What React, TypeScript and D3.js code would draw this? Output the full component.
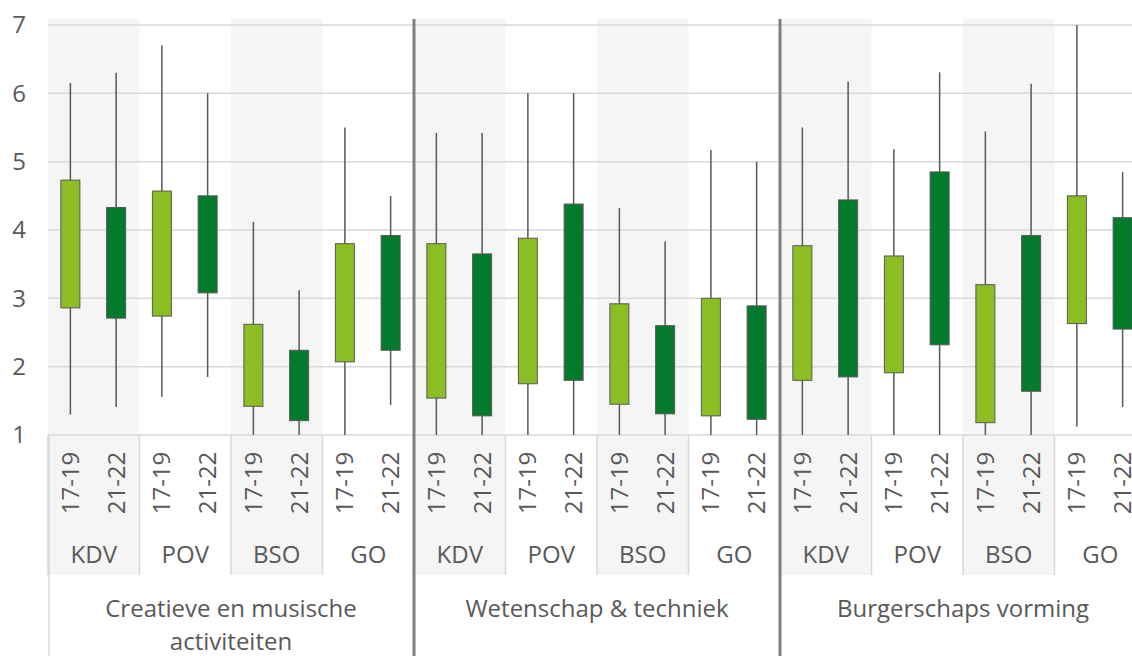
import React from "react";
import * as d3 from "d3";

// chart values
const groupNames = ["Creatieve en musische activiteiten", "Wetenschap & techniek", "Burgerschaps vorming"];
const groupLabelLines = [["Creatieve en musische", "activiteiten"], ["Wetenschap & techniek"], ["Burgerschaps vorming"]];
const settings = ["KDV", "POV", "BSO", "GO"];
const periods = ["17-19", "21-22"];
const yTicks = [1, 2, 3, 4, 5, 6, 7];

// order per group: KDV 17-19, KDV 21-22, POV 17-19, POV 21-22, BSO ..., GO ...
const highs = [
  [6.15, 6.3, 6.7, 6.0, 4.12, 3.12, 5.5, 4.5],
  [5.42, 5.42, 6.0, 6.0, 4.32, 3.83, 5.17, 5.0],
  [5.5, 6.17, 5.18, 6.31, 5.44, 6.14, 7.0, 4.85],
];
const tops = [
  [4.73, 4.33, 4.57, 4.5, 2.62, 2.24, 3.8, 3.92],
  [3.8, 3.65, 3.88, 4.38, 2.92, 2.6, 3.0, 2.89],
  [3.77, 4.44, 3.62, 4.85, 3.2, 3.92, 4.5, 4.18],
];
const bottoms = [
  [2.86, 2.71, 2.74, 3.08, 1.42, 1.21, 2.07, 2.24],
  [1.54, 1.28, 1.75, 1.8, 1.45, 1.31, 1.28, 1.23],
  [1.8, 1.85, 1.91, 2.32, 1.18, 1.64, 2.63, 2.55],
];
const lows = [
  [1.3, 1.41, 1.56, 1.85, 1, 1, 1, 1.44],
  [1, 1, 1, 1, 1, 1, 1, 1],
  [1, 1, 1, 1, 1, 1, 1.12, 1.41],
];

const W = 1132;
const H = 656;
const plotTop = 19;
const axisY = 435;
const catBottom = 575;
const font = "'Open Sans', sans-serif";
const textColor = "#595959";
const periodColors = ["#8cbd22", "#047a2c"];

export default function App() {
  const cells = groupNames.flatMap((g) => settings.map((s) => `${g}|${s}`));
  const x = d3.scaleBand<string>().domain(cells).range([48, 1146]);
  const xg = d3.scaleBand<string>().domain(groupNames).range([48, 1146]);
  const inner = d3.scalePoint<string>().domain(periods).range([-0.5, x.bandwidth() - 0.5]).padding(0.5);
  const y = d3.scaleLinear().domain([1, 7]).range([axisY, 25]);
  const boxW = 19;

  return (
    <svg width={W} height={H} style={{ position: "absolute", left: 0, top: 0, background: "#fff" }} fontFamily={font}>
      {/* shaded columns */}
      {cells.map((c, i) =>
        i % 2 === 0 ? (
          <rect key={"sh" + c} x={x(c)} y={plotTop} width={x.bandwidth()} height={catBottom - plotTop} fill="#f5f5f5" />
        ) : null
      )}
      {/* gridlines */}
      {yTicks.map((t) => (
        <line key={"g" + t} x1={48} x2={W} y1={y(t)} y2={y(t)} stroke="#d9d9d9" strokeWidth={1.5} />
      ))}
      {/* y tick labels */}
      {yTicks.map((t) => (
        <text key={"yt" + t} x={26} y={y(t)} dy="0.35em" textAnchor="end" fontSize={24} fill={textColor}>
          {t}
        </text>
      ))}
      {/* category separators in label area */}
      {cells.map((c) => (
        <line key={"cs" + c} x1={x(c)!} x2={x(c)!} y1={axisY} y2={catBottom} stroke="#d9d9d9" strokeWidth={1.5} />
      ))}
      <line x1={49} x2={49} y1={axisY} y2={H} stroke="#d9d9d9" strokeWidth={1.5} />
      {/* boxes */}
      {groupNames.map((g, gi) =>
        settings.map((s, si) =>
          periods.map((p, pi) => {
            const k = si * 2 + pi;
            const cx = x(`${g}|${s}`)! + inner(p)!;
            const hi = highs[gi][k];
            const lo = lows[gi][k];
            const t = tops[gi][k];
            const b = bottoms[gi][k];
            return (
              <g key={`${g}${s}${p}`}>
                <line x1={cx} x2={cx} y1={y(hi)} y2={y(lo)} stroke="#595959" strokeWidth={1.5} />
                <rect
                  x={cx - boxW / 2}
                  y={y(t)}
                  width={boxW}
                  height={y(b) - y(t)}
                  fill={periodColors[pi]}
                  stroke="#595959"
                  strokeWidth={1}
                />
              </g>
            );
          })
        )
      )}
      {/* period labels */}
      {cells.map((c) =>
        periods.map((p) => {
          const cx = x(c)! + inner(p)!;
          return (
            <text
              key={"pl" + c + p}
              transform={`translate(${cx},483) rotate(-90)`}
              textAnchor="middle"
              dy="0.35em"
              fontSize={24}
              fill={textColor}
            >
              {p}
            </text>
          );
        })
      )}
      {/* setting labels */}
      {cells.map((c) => (
        <text key={"sl" + c} x={x(c)! + x.bandwidth() / 2} y={563} textAnchor="middle" fontSize={24} fill={textColor}>
          {c.split("|")[1]}
        </text>
      ))}
      {/* group labels */}
      {groupNames.map((g, gi) => (
        <text key={"gl" + g} x={xg(g)! + xg.bandwidth() / 2} y={617} textAnchor="middle" fontSize={24} fill={textColor}>
          {groupLabelLines[gi].map((ln, li) => (
            <tspan key={li} x={xg(g)! + xg.bandwidth() / 2} dy={li === 0 ? 0 : 33}>
              {ln}
            </tspan>
          ))}
        </text>
      ))}
      {/* group separators */}
      {groupNames.slice(1).map((g) => (
        <line key={"gs" + g} x1={xg(g)!} x2={xg(g)!} y1={plotTop} y2={H} stroke="#7f7f7f" strokeWidth={3} />
      ))}
    </svg>
  );
}
